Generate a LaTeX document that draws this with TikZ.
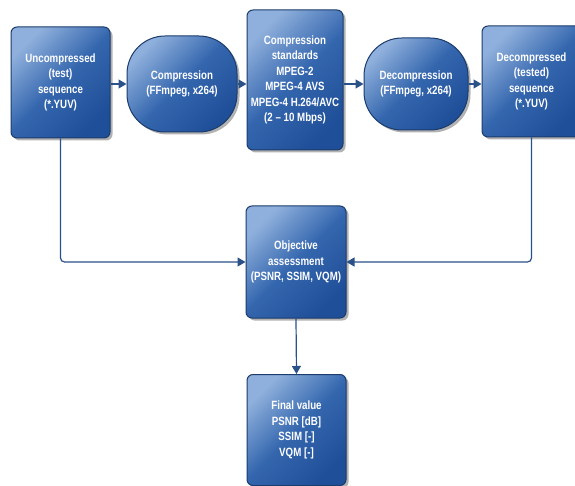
\documentclass[tikz,border=0pt]{standalone}
\usepackage{fontspec}
\setmainfont{Liberation Sans}[FakeStretch=0.81]
\usetikzlibrary{arrows.meta,shadows}

\definecolor{bloklicht}{HTML}{8FB0DC}
\definecolor{blokmidden}{HTML}{3466AE}
\definecolor{blokdonker}{HTML}{1F4F98}
\definecolor{blokrand}{HTML}{1B3C6C}
\definecolor{lijnkleur}{HTML}{2B5189}

\tikzset{
  blok/.style={draw=blokrand, line width=1pt, rounded corners=6pt,
    minimum width=99pt, minimum height=111pt, inner sep=0pt,
    align=center, text=white, font=\bfseries\fontsize{12}{15.5}\selectfont,
    top color=bloklicht, bottom color=blokdonker, middle color=blokmidden,
    shading angle=45,
    drop shadow={shadow xshift=2.5pt, shadow yshift=-2.5pt, opacity=0.3, fill=black}},
  ovaal/.style={blok, rounded corners=38pt, minimum width=110pt, minimum height=96pt},
  pijl/.style={draw=lijnkleur, line width=1.2pt, rounded corners=4pt,
    -{Triangle[length=8pt,width=9pt]}}
}

\begin{document}
\begin{tikzpicture}[x=1pt,y=-1pt]
    % achtergrond
    \fill[white] (0,0) rectangle (575,486);
    \useasboundingbox (0,0) rectangle (575,486);
    \clip (0,0) rectangle (575,486);
    % bovenste rij
    \node[blok] (u) at (60.5,82.5) {Uncompressed\\(test)\\sequence\\(*.YUV)};
    \node[ovaal] (c) at (182,84) {Compression\\(FFmpeg, x264)};
    \node[blok, minimum width=96pt, minimum height=140pt] (s) at (295,80)
        {Compression\\standards\\MPEG-2\\MPEG-4 AVS\\MPEG-4 H.264/AVC\\(2 -- 10 Mbps)};
    \node[ovaal, minimum width=104pt, minimum height=92pt] (d) at (416,84) {Decompression\\(FFmpeg, x264)};
    \node[blok] (t) at (531.5,81.5) {Decompressed\\(tested)\\sequence\\(*.YUV)};
    % beoordeling
    \node[blok, minimum width=100pt, minimum height=112pt] (o) at (296,262) {Objective\\assessment\\(PSNR, SSIM, VQM)};
    \node[blok] (f) at (296.5,430) {Final value\\PSNR [dB]\\SSIM [-]\\VQM [-]};
    % pijlen
    \draw[pijl] (u.east |- c) -- (c.west);
    \draw[pijl] (c.east) -- (s.west |- c);
    \draw[pijl] (s.east |- d) -- (d.west);
    \draw[pijl] (d.east) -- (t.west |- d);
    \draw[pijl] (u.south) |- (o.west);
    \draw[pijl] (t.south) |- (o.east);
    \draw[pijl] (o.south) -- (f.north);
\end{tikzpicture}
\end{document}
